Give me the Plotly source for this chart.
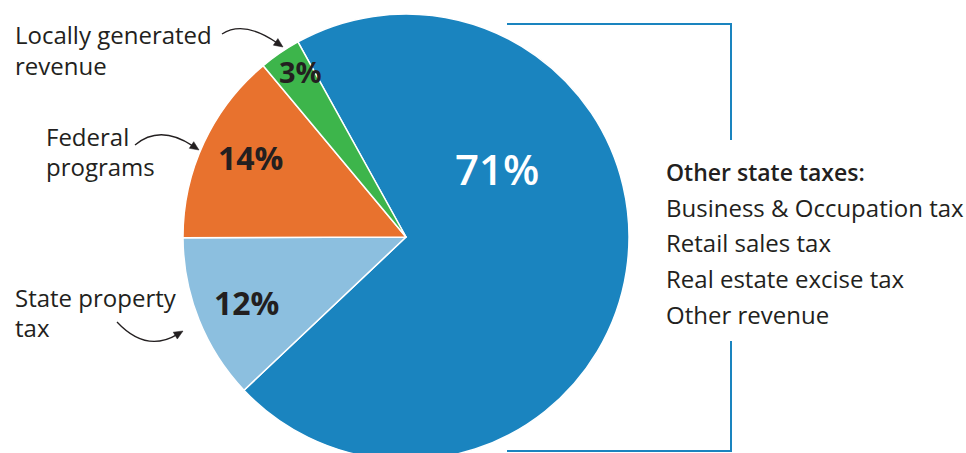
import plotly.graph_objects as go
import math

# ---- data ----
categories = ["Other state taxes", "State property tax", "Federal programs", "Locally generated revenue"]
shares = [71, 12, 14, 3]
slice_colors = ["#1a84bf", "#8cbfdf", "#e8722e", "#3db54b"]
other_items = ["Business & Occupation tax", "Retail sales tax", "Real estate excise tax", "Other revenue"]
other_title = "Other state taxes:"

W, H = 966, 474
FONT = "Open Sans"
DARK = "#231f20"
BLUE = "#1a84bf"

fig = go.Figure()
fig.add_trace(go.Pie(
    labels=categories, values=shares, sort=False, direction="clockwise",
    rotation=-29, marker=dict(colors=slice_colors, line=dict(color="white", width=1.5)),
    textinfo="none", hoverinfo="skip", showlegend=False,
    domain=dict(x=[183 / W, 629 / W], y=[1 - 460 / H, 1 - 14 / H]),
))
# invisible pixel-coordinate axes for decorations
fig.add_trace(go.Scatter(x=[], y=[], showlegend=False, hoverinfo="skip"))

annotations = []
def txt(x, y, s, size, color=DARK, weight=400, xanchor="left"):
    annotations.append(dict(x=x, y=y, xref="x", yref="y", text=s,
                            showarrow=False, xanchor=xanchor, yanchor="middle",
                            font=dict(family=FONT, size=size, color=color, weight=weight)))

# slice value labels
label_pos = [(497, 168, 42, "white", 600), (246, 302, 32, DARK, 700),
             (250, 157, 32, DARK, 700), (300, 71, 29, DARK, 700)]
for v, (x, y, s, c, w) in zip(shares, label_pos):
    txt(x, y, f"{v}%", s, c, w, xanchor="center")

# left category names
FS = 24
txt(13, 34, "Locally generated", FS)
txt(13, 65, "revenue", FS)
txt(44, 136, "Federal", FS)
txt(44, 166, "programs", FS)
txt(13, 297, "State property", FS)
txt(13, 327, "tax", FS)

# right list
txt(664, 172, other_title, 23, weight=600)
for i, item in enumerate(other_items):
    txt(664, 207 + i * 35.7, item, FS)

shapes = []
# bracket
shapes.append(dict(type="path", xref="x", yref="y", path="M 507,24 H 731 V 140",
                   line=dict(color=BLUE, width=2)))
shapes.append(dict(type="path", xref="x", yref="y", path="M 731,341 V 451 H 507",
                   line=dict(color=BLUE, width=2)))

# curved arrows
def curved_arrow(p0, c, p2):
    dx, dy = p2[0] - c[0], p2[1] - c[1]
    n = math.hypot(dx, dy)
    ux, uy = dx / n, dy / n
    L, hw = 9, 4
    bx, by = p2[0] - ux * L, p2[1] - uy * L
    shapes.append(dict(type="path", xref="x", yref="y",
                       path=f"M {p0[0]},{p0[1]} Q {c[0]},{c[1]} {bx + ux*2},{by + uy*2}",
                       line=dict(color=DARK, width=1.3)))
    lx, ly = bx - uy * hw, by + ux * hw
    rx, ry = bx + uy * hw, by - ux * hw
    shapes.append(dict(type="path", xref="x", yref="y",
                       path=f"M {p2[0]},{p2[1]} L {lx},{ly} L {rx},{ry} Z",
                       fillcolor=DARK, line=dict(color=DARK, width=0.5)))

curved_arrow((222, 34), (244, 20), (283, 47))
curved_arrow((135, 145), (160, 124), (199, 150))
curved_arrow((117, 322), (146, 353), (183, 331))

fig.update_layout(
    width=W, height=H, margin=dict(l=0, r=0, t=0, b=0),
    paper_bgcolor="white", plot_bgcolor="rgba(0,0,0,0)",
    xaxis=dict(range=[0, W], visible=False, domain=[0, 1], fixedrange=True),
    yaxis=dict(range=[H, 0], visible=False, domain=[0, 1], fixedrange=True),
    annotations=annotations, shapes=shapes,
)
fig.write_html("out.html", config={"displayModeBar": False},
               post_script="document.body.style.margin='0';document.body.style.overflow='hidden';document.documentElement.style.overflow='hidden';")
